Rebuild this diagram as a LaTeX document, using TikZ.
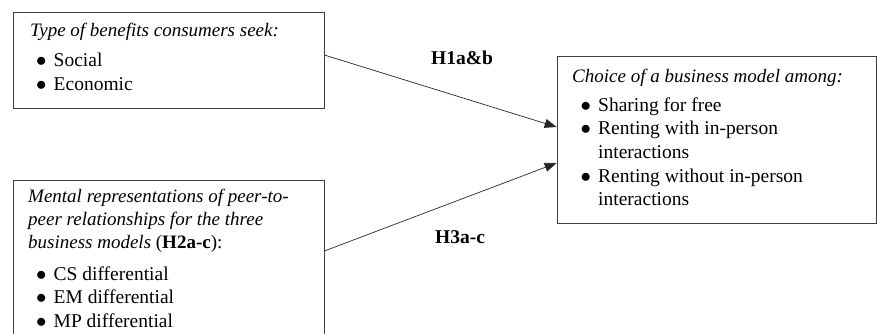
\documentclass[tikz,border=0pt]{standalone}
\usepackage{fontspec}
\setmainfont{Liberation Serif}
\usetikzlibrary{arrows.meta}
\tikzset{
  box/.style={draw=black!75, line width=0.7pt, rectangle, inner sep=0pt},
  line/.style={anchor=base west, inner sep=0pt, font=\fontsize{19.5}{23}\selectfont},
  ttl/.style={anchor=base west, inner sep=0pt, font=\fontsize{19}{23}\selectfont\itshape},
  hyp/.style={anchor=base, inner sep=0pt, font=\fontsize{19.5}{23}\selectfont\bfseries},
  conn/.style={line width=0.7pt, black!85, -{Triangle[length=12pt,width=9pt]}}
}
\newcommand{\bul}{\makebox[17.5pt][l]{$\bullet$}}
\begin{document}
\begin{tikzpicture}[x=1pt,y=-1pt]
\useasboundingbox (0,0) rectangle (877,334);
\clip (0,0) rectangle (877,334);
% boxes
\node[box, minimum width=311pt, minimum height=96pt] (b1) at (168.5,60) {};
\node[box, minimum width=311pt, minimum height=176pt] (b2) at (168.5,268) {};
\node[box, minimum width=319pt, minimum height=167pt] (b3) at (716.5,139.5) {};
% box 1 text
\node[ttl] (t1) at (30,37) {Type of benefits consumers seek:};
\node[line] (t1a) at (36,67) {\bul Social};
\node[line] (t1b) at (36,91) {\bul Economic};
% box 2 text
\node[ttl] (t2a) at (28,202) {Mental representations of peer-to-};
\node[ttl] (t2b) at (28,225) {peer relationships for the three};
\node[ttl] (t2c) at (28,248) {business models \upshape(\textbf{H2a-c}):};
\node[line] (t2d) at (36,280) {\bul CS differential};
\node[line] (t2e) at (36,303) {\bul EM differential};
\node[line] (t2f) at (36,327) {\bul MP differential};
% box 3 text
\node[ttl] (t3) at (572,83) {Choice of a business model among:};
\node[line] (t3a) at (580.5,112) {\bul Sharing for free};
\node[line] (t3b) at (580.5,135) {\bul Renting with in-person};
\node[line] (t3c) at (598,158) {interactions};
\node[line] (t3d) at (580.5,182) {\bul Renting without in-person};
\node[line] (t3e) at (598,205) {interactions};
% connectors
\coordinate (s1) at ([yshift=5pt]b1.east);
\coordinate (e1) at ([yshift=12.5pt]b3.west);
\coordinate (s2) at ([yshift=17pt]b2.east);
\coordinate (e2) at ([yshift=-23.5pt]b3.west);
\draw[conn] (s1) -- (e1);
\draw[conn] (s2) -- (e2);
% labels
\node[hyp] (h1) at (462,65) {H1a\&b};
\node[hyp] (h3) at (460,243) {H3a-c};
\end{tikzpicture}
\end{document}
